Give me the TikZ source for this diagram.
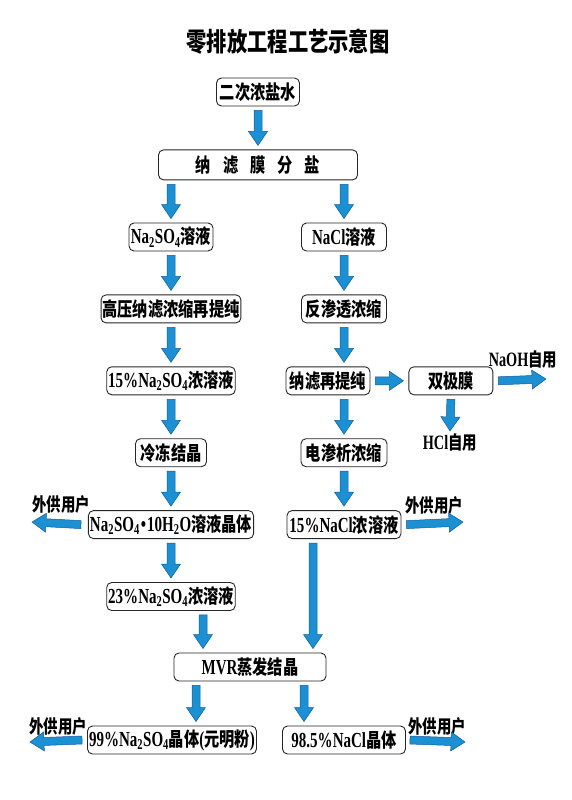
\documentclass[tikz,border=0pt]{standalone}
\usepackage{fontspec}
\setmainfont{Noto Sans CJK SC}[FakeStretch=0.78]
\newfontfamily\latfont{Liberation Serif}[FakeStretch=0.7, Scale=1.1]
\newcommand{\la}[1]{{\latfont\bfseries #1}}
\usetikzlibrary{positioning, calc}

\definecolor{flowblue}{RGB}{27,144,210}
\definecolor{flowedge}{RGB}{22,92,150}

% block arrow between two points
\newcommand{\flowarrow}[2]{%
  \coordinate (fa) at (#1);
  \coordinate (fb) at (#2);
  \coordinate (fh) at ($(fb)!14pt!(fa)$);
  \filldraw[flow] ($(fa)!4pt!90:(fb)$) -- ($(fh)!4pt!90:(fb)$)
    -- ($(fh)!9.5pt!90:(fb)$) -- (fb) -- ($(fh)!9.5pt!-90:(fb)$)
    -- ($(fh)!4pt!-90:(fb)$) -- ($(fa)!4pt!-90:(fb)$) -- cycle;}

\begin{document}
\begin{tikzpicture}[
      x=1pt, y=-1pt,
      node distance=43pt and 38pt,
      box/.style={
        draw=black!85, line width=0.9pt, rounded corners=5pt, fill=white,
        minimum height=28pt, inner xsep=1.5pt, inner ysep=0pt,
        font=\fontsize{19.5}{19.5}\selectfont\bfseries
      },
      tag/.style={inner sep=0pt, font=\fontsize{18.5}{18.5}\selectfont\bfseries},
      flow/.style={fill=flowblue, draw=flowedge, line width=0.5pt}
    ]
    \useasboundingbox (0,0) rectangle (571,800);
    \node[inner sep=0pt, font=\fontsize{26}{26}\selectfont\bfseries] (title) at (288,42) {零排放工程工艺示意图};
    \node[box, minimum width=83pt] (brine) at (258,92) {二次浓盐水};
    \node[box, minimum width=199pt, minimum height=30pt, below=of brine] (split)
        {纳\hspace{12pt}滤\hspace{12pt}膜\hspace{12pt}分\hspace{12pt}盐};
    % sodium sulfate line
    \node[box, minimum width=84pt] (sulfate) at (171,237) {\la{Na\textsubscript{2}SO\textsubscript{4}}溶液};
    \node[box, minimum width=139pt, below=of sulfate] (hpnf) {高压纳滤浓缩再提纯};
    \node[box, minimum width=112pt, below=of hpnf] (sulf15) {\la{15\%Na\textsubscript{2}SO\textsubscript{4}}浓溶液};
    \node[box, minimum width=71pt, below=of sulf15] (freeze) {冷冻结晶};
    \node[box, minimum width=155pt, below=of freeze] (glauber)
        {\la{Na\textsubscript{2}SO\textsubscript{4}\kern1pt•\kern1pt10H\textsubscript{2}O}溶液晶体};
    \node[box, minimum width=111pt, below=of glauber] (sulf23) {\la{23\%Na\textsubscript{2}SO\textsubscript{4}}浓溶液};
    % sodium chloride line
    \node[box, minimum width=85pt] (chloride) at (344,237) {\la{NaCl}溶液};
    \node[box, minimum width=85pt, below=of chloride] (ro) {反渗透浓缩};
    \node[box, minimum width=84pt, below=of ro, xshift=-16pt] (nfre) {纳滤再提纯};
    \node[box, minimum width=84pt, right=of nfre] (bpm) {双极膜};
    \node[box, minimum width=86pt, below=of nfre, xshift=16pt] (elec) {电渗析浓缩};
    \node[box, minimum width=114pt, below=of elec] (chl15) {\la{15\%NaCl}浓溶液};
    % evaporation and products
    \node[box, minimum width=152pt] (mvr) at (250,667) {\la{MVR}蒸发结晶};
    \node[box, minimum width=163pt] (glauberprod) at (172,740)
        {\la{99\%Na\textsubscript{2}SO\textsubscript{4}}晶体\la{(}元明粉\la{)}};
    \node[box, minimum width=123pt] (saltprod) at (344,740) {\la{98.5\%NaCl}晶体};
    % side outputs
    \node[tag] (naoh) at (523,360) {\la{NaOH}自用};
    \node[tag] (hcl) at (450,443) {\la{HCl}自用};
    \node[tag] (userA) at (61,504) {外供用户};
    \node[tag] (userB) at (434,505) {外供用户};
    \node[tag] (userC) at (58,726) {外供用户};
    \node[tag] (userD) at (437,726) {外供用户};
    \coordinate (naohend) at (546,379);
    \coordinate (outA) at (32,522);
    \coordinate (outB) at (463,522);
    \coordinate (outC) at (30,742);
    \coordinate (outD) at (465,742);

    \flowarrow{$(brine.south)+(0,4)$}{$(split.north)+(0,-4)$}
    \flowarrow{$(split.south -| sulfate.north)+(0,4)$}{$(sulfate.north)+(0,-4)$}
    \flowarrow{$(split.south -| chloride.north)+(0,4)$}{$(chloride.north)+(0,-4)$}
    \flowarrow{$(sulfate.south)+(0,4)$}{$(hpnf.north)+(0,-4)$}
    \flowarrow{$(hpnf.south)+(0,4)$}{$(sulf15.north)+(0,-4)$}
    \flowarrow{$(sulf15.south)+(0,4)$}{$(freeze.north)+(0,-4)$}
    \flowarrow{$(freeze.south)+(0,4)$}{$(glauber.north)+(0,-4)$}
    \flowarrow{$(glauber.south)+(0,4)$}{$(sulf23.north)+(0,-4)$}
    \flowarrow{$(chloride.south)+(0,4)$}{$(ro.north)+(0,-4)$}
    \flowarrow{$(ro.south)+(0,4)$}{$(nfre.north -| ro.south)+(0,-4)$}
    \flowarrow{$(nfre.south -| elec.north)+(0,4)$}{$(elec.north)+(0,-4)$}
    \flowarrow{$(elec.south)+(0,4)$}{$(chl15.north)+(0,-4)$}
    \flowarrow{$(nfre.east)+(5,0)$}{$(bpm.west)+(-5,0)$}
    \flowarrow{$(bpm.east)+(5,0)$}{naohend}
    \flowarrow{$(bpm.south)+(0,4)$}{$(hcl.north)+(0,-3)$}
    \flowarrow{$(glauber.west)+(-7,0)$}{outA}
    \flowarrow{$(chl15.east)+(5,0)$}{outB}
    \flowarrow{$(sulf23.south)+(32,4)$}{$(mvr.north)+(-47,-4)$}
    \flowarrow{$(chl15.south)+(-31,4)$}{$(mvr.north)+(63,-4)$}
    \flowarrow{$(mvr.south)+(-54,4)$}{$(glauberprod.north)+(24,-4)$}
    \flowarrow{$(mvr.south)+(54,4)$}{$(saltprod.north)+(-40,-4)$}
    \flowarrow{$(glauberprod.west)+(-5,0)$}{outC}
    \flowarrow{$(saltprod.east)+(4,0)$}{outD}
  \end{tikzpicture}
\end{document}
